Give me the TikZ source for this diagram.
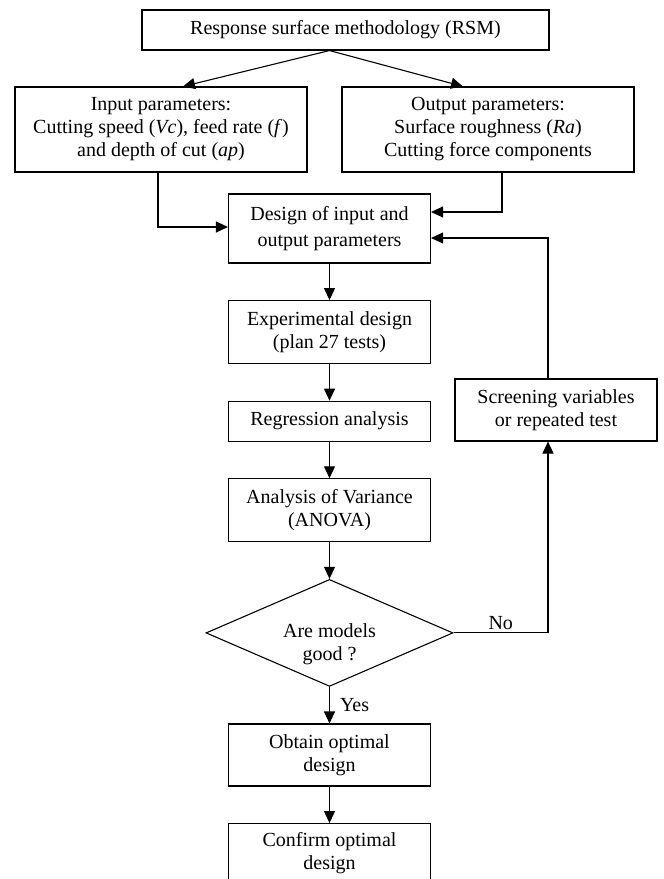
\documentclass[tikz,border=0pt]{standalone}
\usepackage{fontspec}
\setmainfont{Liberation Serif}
\usetikzlibrary{positioning,arrows.meta,shapes.geometric}
\newcommand{\flowfont}{\fontsize{20}{23}\selectfont}
\tikzset{
  box/.style={draw,line width=1.1pt,inner sep=2pt,align=center,font=\flowfont},
  stage/.style={box,minimum width=202pt},
  decision/.style={draw,line width=1.1pt,diamond,
                   minimum width=247pt,minimum height=107pt,inner sep=0pt},
  arr/.style={-{Triangle[length=12pt,width=11pt]},line width=1.1pt},
  tag/.style={font=\flowfont,inner sep=1pt},
}

\begin{document}
\begin{tikzpicture}[x=1pt,y=-1pt,node distance=36.5pt]
    \useasboundingbox (0,0) rectangle (664,879);
    % top row
    \node[box,minimum width=407pt,minimum height=40pt] (rsm) at (345.5,30) {Response surface methodology (RSM)};
    \node[box,minimum width=292pt,minimum height=85pt] (input) at (161,129.5) {Input parameters:\\Cutting speed (\textit{Vc}), feed rate (\textit{f})\\and depth of cut (\textit{ap})};
    \node[box,minimum width=292pt,minimum height=85pt] (output) at (488,129.5) {Output parameters:\\Surface roughness (\textit{Ra})\\Cutting force components};
    % main column
    \node[stage,minimum height=69pt,font={\fontsize{20}{26}\selectfont}] (design) at (329.5,228.5) {Design of input and\\output parameters};
    \node[stage,minimum height=63pt,below=of design] (expdesign) {Experimental design\\(plan 27 tests)};
    \node[stage,minimum height=40pt,below=of expdesign] (regress) {Regression analysis};
    \node[stage,minimum height=63pt,below=of regress] (anova) {Analysis of Variance\\(ANOVA)};
    \node[decision,below=of anova] (check) {};
    \node[tag,align=center] (checktxt) at ([yshift=-11pt]check.center) {Are models\\good ?};
    \node[stage,minimum height=62pt,below=of check] (obtain) {Obtain optimal\\design};
    \node[stage,minimum height=60pt,below=of obtain] (confirm) {Confirm optimal\\design};
    % feedback
    \node[box,minimum width=202pt,minimum height=62pt] (screen) at (556,410) {Screening variables\\or repeated test};

    \draw[arr] (rsm.south -| design.north) -- ([xshift=22pt]input.north);
    \draw[arr] (rsm.south -| design.north) -- ([xshift=-25pt]output.north);
    \draw[arr] ([xshift=-3pt]input.south) |- ([yshift=1.5pt]design.west);
    \draw[arr] ([xshift=14pt]output.south) |- ([yshift=16.5pt]design.east);
    \draw[arr] ([xshift=-8pt]screen.north) |- ([yshift=-9.5pt]design.east);
    \draw[arr] (design) -- (expdesign);
    \draw[arr] (expdesign) -- (regress);
    \draw[arr] (regress) -- (anova);
    \draw[arr] (anova) -- (check);
    \draw[arr] (check) -- node[tag,right,xshift=9pt] (yes) {Yes} (obtain);
    \draw[arr] (obtain) -- (confirm);
    \draw[arr] (check.east) -| node[tag,above,pos=0.25,yshift=2pt] (no) {No} ([xshift=-8pt]screen.south);
  \end{tikzpicture}
\end{document}
